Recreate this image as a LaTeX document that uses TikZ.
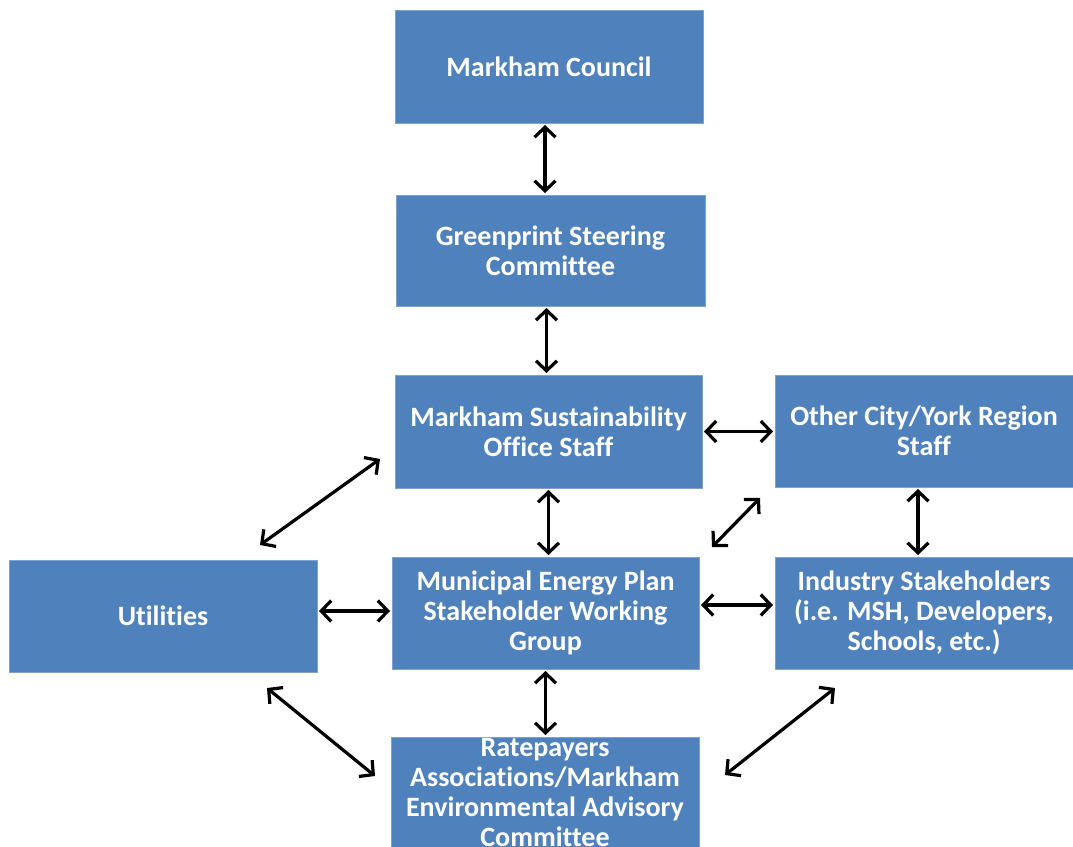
\documentclass[tikz,border=0pt]{standalone}
\usepackage{fontspec}
\setmainfont{Carlito}[Ligatures=NoCommon]
\usetikzlibrary{arrows.meta}
\definecolor{boxblue}{HTML}{4F81BD}
\definecolor{boxedge}{HTML}{7EA2CF}
\tikzset{
  orgbox/.style={fill=boxblue, draw=boxedge, line width=0.8pt, text=white,
    font=\fontsize{28}{30}\selectfont\bfseries, align=center,
    inner sep=0pt, outer sep=0pt},
  bi/.style={line width=3.2pt, black,
    {Straight Barb[length=10pt,width=21pt]}-{Straight Barb[length=10pt,width=21pt]}},
  gap/.style={shorten <=2pt, shorten >=2pt}
}
\begin{document}
\begin{tikzpicture}[x=1pt,y=-1pt]
\useasboundingbox (0,0) rectangle (1073,846);
\node[orgbox, minimum width=308pt, minimum height=113pt] (council) at (549,66.5) {Markham Council};
\node[orgbox, minimum width=309pt, minimum height=111pt] (green) at (550.5,250.5) {Greenprint Steering\\Committee};
\node[orgbox, minimum width=307pt, minimum height=113pt] (mso) at (548.5,431.5) {Markham Sustainability\\Office Staff};
\node[orgbox, minimum width=298pt, minimum height=112pt] (other) at (924,431) {Other City/York Region\\Staff};
\node[orgbox, minimum width=308pt, minimum height=112pt] (util) at (163,616) {Utilities};
\node[orgbox, minimum width=307pt, minimum height=112pt] (mep) at (545.5,613) {Municipal Energy Plan\\Stakeholder Working\\Group};
\node[orgbox, minimum width=298pt, minimum height=112pt] (ind) at (924,613) {Industry Stakeholders\\(i.e. MSH, Developers,\\Schools, etc.)};
\node[orgbox, minimum width=308pt, minimum height=112pt] (rate) at (545,793) {Ratepayers\\Associations/Markham\\Environmental Advisory\\Committee};

% vertical and horizontal connectors
\draw[bi,gap] ([xshift=-4pt]council.south) -- ([xshift=-4pt]council.south |- green.north);
\draw[bi,gap] ([xshift=-4pt]green.south) -- ([xshift=-4pt]green.south |- mso.north);
\draw[bi,gap] (mso.east) -- (mso.east -| other.west);
\draw[bi,gap] (mso.south) -- (mso.south |- mep.north);
\draw[bi,gap] ([xshift=-6pt]other.south) -- ([xshift=-6pt]ind.north);
\coordinate (um) at ([yshift=5pt]util.east);
\draw[bi,gap] (um) -- (um -| mep.west);
\coordinate (mi) at ([yshift=8pt]mep.east);
\draw[bi,gap] (mi) -- (mi -| ind.west);
\draw[bi,gap] (mep.south) -- (mep.south |- rate.north);

% diagonal connectors
\draw[bi] ([shift={(-15,-29)}]mso.south west) -- ([shift={(-57,-15)}]util.north east);
\draw[bi] ([shift={(-15,11)}]other.south west) -- ([shift={(13,-10)}]mep.north east);
\draw[bi] ([shift={(-50,16)}]util.south east) -- ([shift={(-16,39)}]rate.north west);
\draw[bi] ([shift={(60,19)}]ind.south west) -- ([shift={(26,38)}]rate.north east);
\end{tikzpicture}
\end{document}
